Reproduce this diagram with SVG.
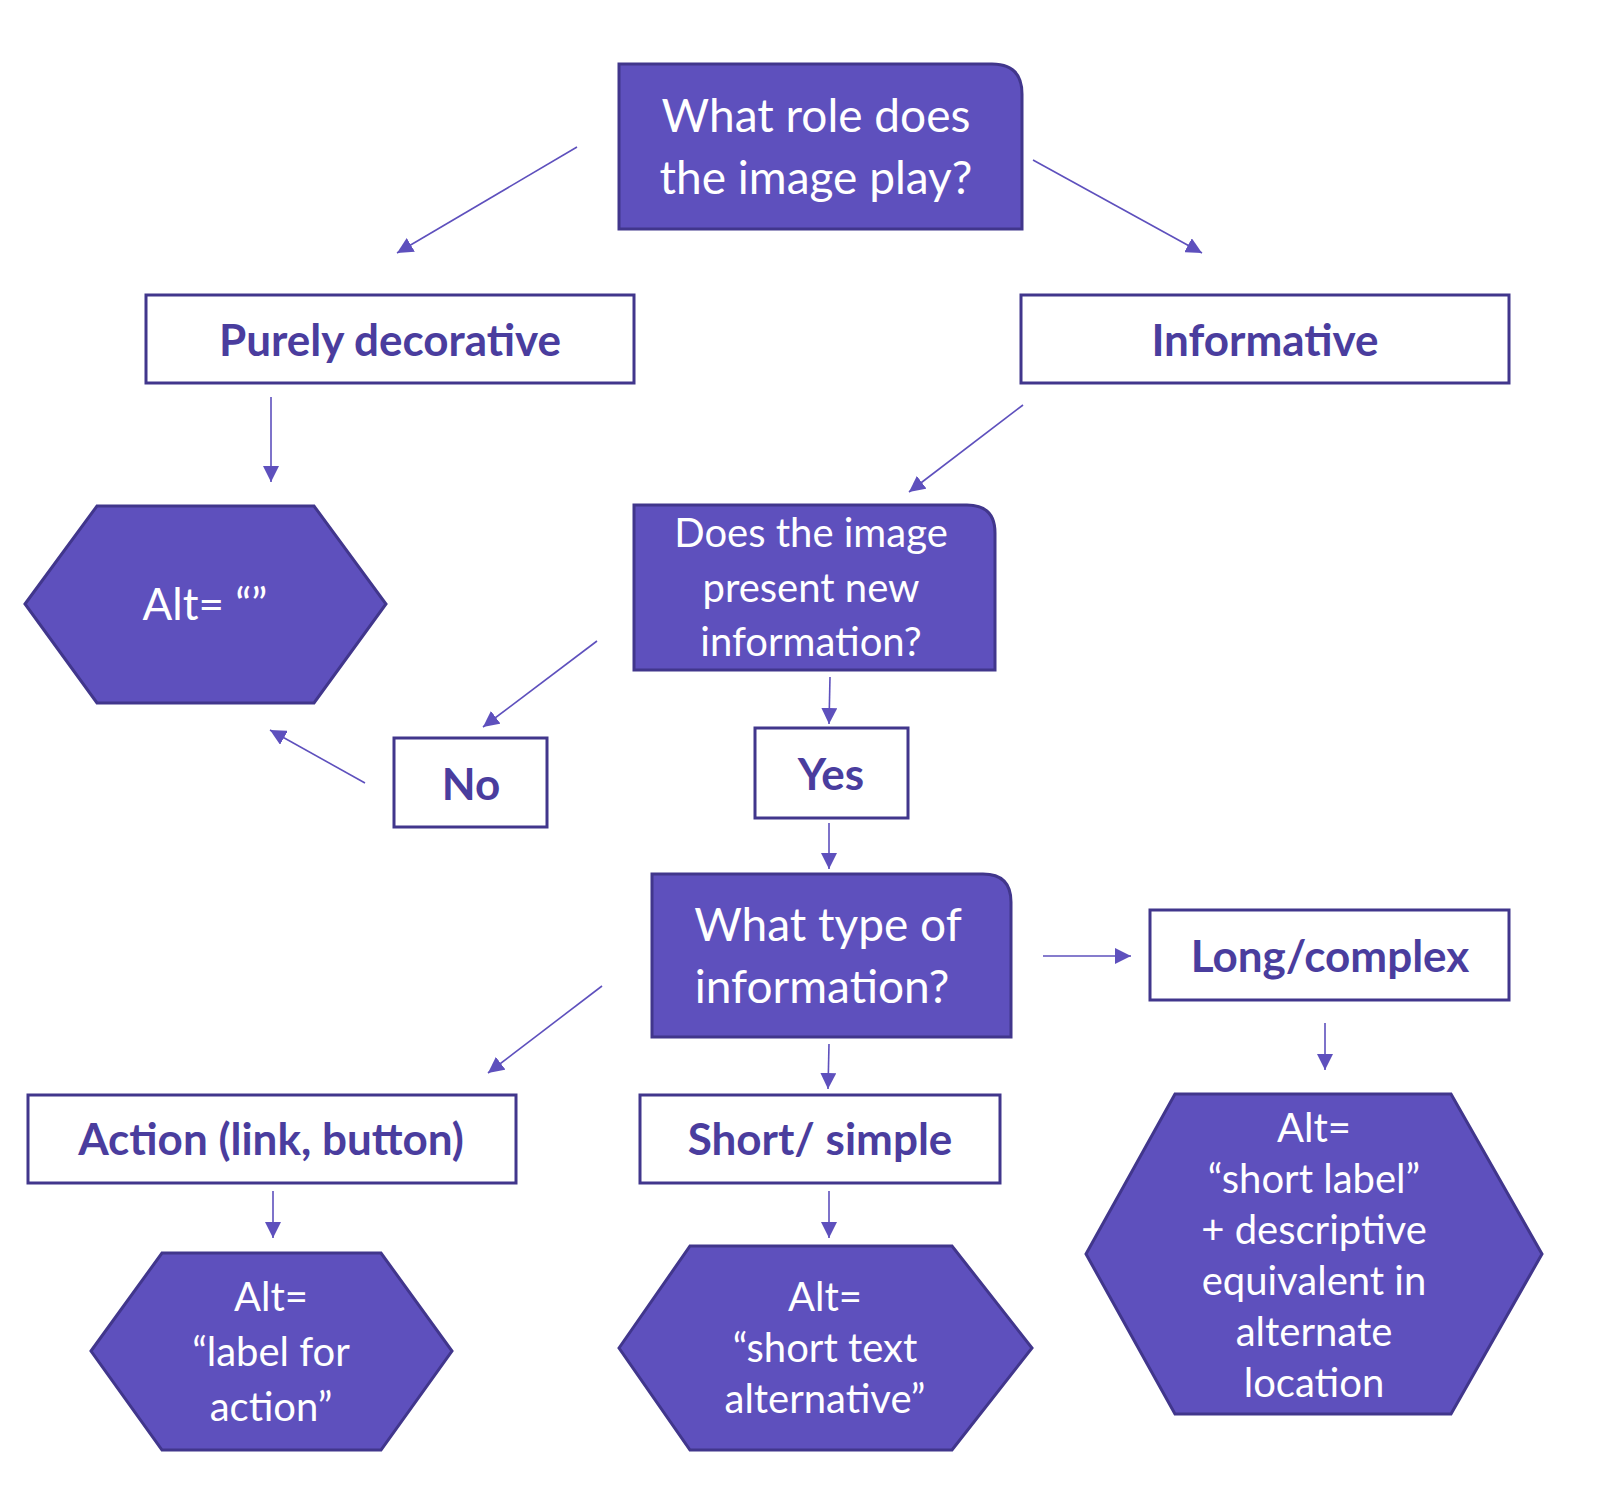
<svg xmlns="http://www.w3.org/2000/svg" width="1600" height="1502" viewBox="0 0 1600 1502">
<style>
.dark{fill:#5e50bd;stroke:#41368c;stroke-width:3}
.box{fill:#ffffff;stroke:#41368c;stroke-width:3}
.wt{fill:#ffffff;font-family:Lato,"Open Sans",sans-serif;text-anchor:middle}
.pt{fill:#4a3d9e;font-family:Lato,"Open Sans",sans-serif;font-weight:bold;text-anchor:middle}
.con line{stroke:#5e50bd;stroke-width:1.6;fill:none}
</style>
<defs>
<marker id="ah" viewBox="0 0 10 10" refX="10" refY="5" markerWidth="11" markerHeight="11" markerUnits="userSpaceOnUse" orient="auto">
<path d="M0,0 L10,5 L0,10 z" fill="#5e50bd"/>
</marker>
<marker id="ah2" viewBox="0 0 10 10" refX="10" refY="5" markerWidth="16" markerHeight="16" markerUnits="userSpaceOnUse" orient="auto">
<path d="M0,0 L10,5 L0,10 z" fill="#5e50bd"/>
</marker>
</defs>
<rect width="1600" height="1502" fill="#ffffff"/>

<g id="connectors" class="con">
<line x1="577" y1="147" x2="397" y2="253" marker-end="url(#ah2)"/>
<line x1="1033" y1="160" x2="1202" y2="253" marker-end="url(#ah2)"/>
<line x1="271" y1="397" x2="271" y2="482" marker-end="url(#ah2)"/>
<line x1="1023" y1="405" x2="909" y2="492" marker-end="url(#ah2)"/>
<line x1="597" y1="641" x2="483" y2="727" marker-end="url(#ah2)"/>
<line x1="830" y1="677" x2="829" y2="724" marker-end="url(#ah2)"/>
<line x1="365" y1="783" x2="270" y2="730" marker-end="url(#ah2)"/>
<line x1="829" y1="823" x2="829" y2="869" marker-end="url(#ah2)"/>
<line x1="1043" y1="956" x2="1131" y2="956" marker-end="url(#ah2)"/>
<line x1="1325" y1="1023" x2="1325" y2="1070" marker-end="url(#ah2)"/>
<line x1="602" y1="986" x2="488" y2="1073" marker-end="url(#ah2)"/>
<line x1="829" y1="1044" x2="828" y2="1089" marker-end="url(#ah2)"/>
<line x1="273" y1="1191" x2="273" y2="1238" marker-end="url(#ah2)"/>
<line x1="829" y1="1191" x2="829" y2="1238" marker-end="url(#ah2)"/>
</g>

<g id="node-role">
<path class="dark" d="M619,64 H992 Q1022,64 1022,94 V229 H619 Z"/>
<text class="wt" x="816" y="132" font-size="46">What role does</text>
<text class="wt" x="816" y="194" font-size="46">the image play?</text>
</g>

<g id="node-decorative">
<rect class="box" x="146" y="295" width="488" height="88"/>
<text class="pt" x="390" y="356" font-size="44">Purely decorative</text>
</g>

<g id="node-informative">
<rect class="box" x="1021" y="295" width="488" height="88"/>
<text class="pt" x="1265" y="356" font-size="44">Informative</text>
</g>

<g id="node-alt-empty">
<polygon class="dark" points="25,604 97,506 314,506 386,604 314,703 97,703"/>
<text class="wt" x="205" y="620" font-size="44">Alt= “”</text>
</g>

<g id="node-new-info">
<path class="dark" d="M634,505 H967 Q995,505 995,533 V670 H634 Z"/>
<text class="wt" x="811" y="547" font-size="40">Does the image</text>
<text class="wt" x="811" y="602" font-size="40">present new</text>
<text class="wt" x="811" y="656" font-size="40">information?</text>
</g>

<g id="node-no">
<rect class="box" x="394" y="738" width="153" height="89"/>
<text class="pt" x="471" y="800" font-size="44">No</text>
</g>

<g id="node-yes">
<rect class="box" x="755" y="728" width="153" height="90"/>
<text class="pt" x="831" y="790" font-size="44">Yes</text>
</g>

<g id="node-type">
<path class="dark" d="M652,874 H983 Q1011,874 1011,902 V1037 H652 Z"/>
<text class="wt" x="828" y="941" font-size="46">What type of</text>
<text class="wt" x="822" y="1003" font-size="46">information?</text>
</g>

<g id="node-long">
<rect class="box" x="1150" y="910" width="359" height="90"/>
<text class="pt" x="1330" y="972" font-size="44">Long/complex</text>
</g>

<g id="node-action">
<rect class="box" x="28" y="1095" width="488" height="88"/>
<text class="pt" x="271" y="1155" font-size="44">Action (link, button)</text>
</g>

<g id="node-short">
<rect class="box" x="640" y="1095" width="360" height="88"/>
<text class="pt" x="820" y="1155" font-size="44">Short/ simple</text>
</g>

<g id="node-alt-action">
<polygon class="dark" points="91,1351 162,1253 381,1253 452,1351 381,1450 162,1450"/>
<text class="wt" x="271" y="1311" font-size="40">Alt=</text>
<text class="wt" x="271" y="1366" font-size="40">“label for</text>
<text class="wt" x="271" y="1421" font-size="40">action”</text>
</g>

<g id="node-alt-short">
<polygon class="dark" points="619,1348 690,1246 952,1246 1032,1348 952,1450 690,1450"/>
<text class="wt" x="825" y="1311" font-size="40">Alt=</text>
<text class="wt" x="825" y="1362" font-size="40">“short text</text>
<text class="wt" x="825" y="1413" font-size="40">alternative”</text>
</g>

<g id="node-alt-long">
<polygon class="dark" points="1086,1254 1175,1094 1451,1094 1542,1254 1451,1414 1175,1414"/>
<text class="wt" x="1314" y="1142" font-size="40">Alt=</text>
<text class="wt" x="1314" y="1193" font-size="40">“short label”</text>
<text class="wt" x="1314" y="1244" font-size="40">+ descriptive</text>
<text class="wt" x="1314" y="1295" font-size="40">equivalent in</text>
<text class="wt" x="1314" y="1346" font-size="40">alternate</text>
<text class="wt" x="1314" y="1397" font-size="40">location</text>
</g>
</svg>
